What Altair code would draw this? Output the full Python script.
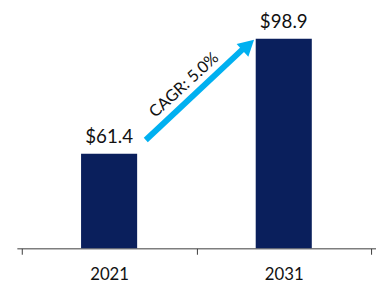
import altair as alt
import pandas as pd

# Data
years = [2021, 2031]
values = [61.4, 98.9]
labels = ["$61.4", "$98.9"]

# Axis layout (data units)
x_domain = [2016, 2036]
y_domain = [30.6, 108.2]
tick_years = [2016, 2021, 2026, 2031, 2036]
label_years = [2021, 2031]

# CAGR annotation (data units)
arrow_x = [2023.1, 2028.9]
arrow_y = [65.9, 96.8]
arrow_tip_x = [2029.3]
arrow_tip_y = [98.6]
cagr_text = ["CAGR: 5.0%"]
cagr_x = [2025.3]
cagr_y = [83.8]

bars_df = pd.DataFrame({"year": years, "value": values, "label": labels})
arrow_df = pd.DataFrame({"x": arrow_x, "y": arrow_y})
tip_df = pd.DataFrame({"x": arrow_tip_x, "y": arrow_tip_y})
text_df = pd.DataFrame({"x": cagr_x, "y": cagr_y, "t": cagr_text})

xscale = alt.Scale(domain=x_domain, nice=False, zero=False)
yscale = alt.Scale(domain=y_domain, nice=False, zero=False, clamp=True)

label_test = " || ".join(f"datum.value == {y}" for y in label_years)

x_axis = alt.Axis(
    values=tick_years,
    labelExpr=f"({label_test}) ? toString(datum.value) : ''",
    title=None,
    grid=False,
    domainColor="#3a3a3a",
    tickColor="#3a3a3a",
    tickOpacity=alt.ConditionalAxisNumber(
        condition={"test": label_test, "value": 0}, value=1
    ),
    tickSize=6,
    labelFont="Lato",
    labelFontSize=17,
    labelColor="#111111",
    labelPadding=13,
    labelFlush=False,
    labelOverlap=False,
)

base_x = alt.X("year:Q", scale=xscale, axis=x_axis)

bars = alt.Chart(bars_df).mark_bar(size=57, color="#0A1F5C").encode(
    x=base_x,
    y=alt.Y("value:Q", scale=yscale, axis=None),
)

bar_labels = alt.Chart(bars_df).mark_text(
    font="Lato", fontSize=19, color="#111111", baseline="alphabetic", dy=-11
).encode(
    x=alt.X("year:Q", scale=xscale),
    y=alt.Y("value:Q", scale=yscale),
    text="label:N",
)

arrow = alt.Chart(arrow_df).mark_line(
    color="#00B0F0", strokeWidth=6, strokeCap="butt"
).encode(
    x=alt.X("x:Q", scale=xscale),
    y=alt.Y("y:Q", scale=yscale),
)

tip = alt.Chart(tip_df).mark_point(
    shape="M0,0L0.55,1L-0.55,1Z", size=1024, filled=True, color="#00B0F0",
    opacity=1, angle=47.4, strokeWidth=0
).encode(
    x=alt.X("x:Q", scale=xscale),
    y=alt.Y("y:Q", scale=yscale),
)

cagr = alt.Chart(text_df).mark_text(
    font="Lato", fontSize=16.5, color="#111111", angle=317.4,
    align="center", baseline="middle"
).encode(
    x=alt.X("x:Q", scale=xscale),
    y=alt.Y("y:Q", scale=yscale),
    text="t:N",
)

chart = alt.layer(bars, bar_labels, arrow, tip, cagr).properties(
    width=365, height=242,
    padding={"left": 9, "top": 0, "right": 0, "bottom": 0},
    background="white",
).configure_view(stroke=None)

chart.save("out.html", embed_options={"renderer": "svg", "actions": False})
